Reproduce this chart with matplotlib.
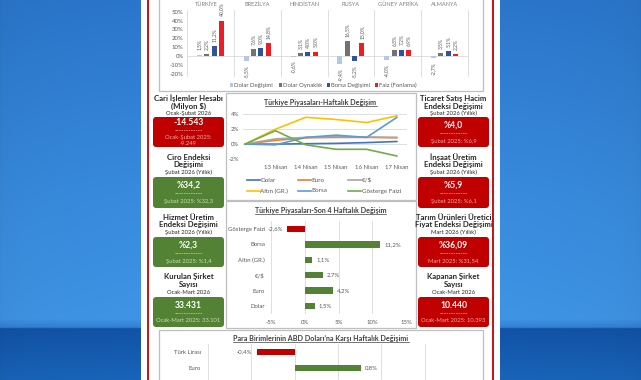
import matplotlib
matplotlib.use('Agg')
import matplotlib.pyplot as plt
import numpy as np
from matplotlib.patches import FancyBboxPatch, Rectangle
import matplotlib.transforms as mtransforms

# ---------------- DATA ----------------
countries = ['TÜRKİYE', 'BREZİLYA', 'HİNDİSTAN', 'RUSYA', 'GÜNEY AFRİKA', 'ALMANYA']
top_series = ['Dolar Değişimi', 'Dolar Oynaklık', 'Borsa Değişimi', 'Faiz (Fonlama)']
dolar_degisimi = [1.5, -5.5, -0.6, -9.4, -4.0, -2.7]
dolar_oynaklik = [2.2, 7.6, 3.1, 16.5, 6.3, 3.5]
borsa_degisimi = [11.2, 9.0, 4.0, -5.2, 7.2, 5.1]
faiz_fonlama = [40.0, 14.8, 5.0, 15.0, 6.9, 2.2]

weekly_dates = ['', '13 Nisan', '14 Nisan', '15 Nisan', '16 Nisan', '17 Nisan']
weekly_names = ['Dolar', 'Euro', '€/$', 'Altın (GR.)', 'Borsa', 'Gösterge Faizi']
w_dolar = [0.0, 0.0, 0.05, 0.1, 0.2, 0.35]
w_euro = [0.0, 0.5, 0.85, 0.9, 0.9, 0.85]
w_eurusd = [0.0, 0.7, 0.9, 1.0, 0.95, 0.9]
w_altin = [0.0, 2.0, 3.6, 3.3, 2.9, 3.8]
w_borsa = [0.0, -0.1, 0.9, 1.2, 0.9, 3.6]
w_gosterge = [0.0, 1.8, -0.1, -0.7, -0.7, -1.6]

four_week_cats = ['Dolar', 'Euro', '€/$', 'Altın (GR.)', 'Borsa', 'Gösterge Faizi']
four_week_vals = [1.5, 4.2, 2.7, 1.1, 11.2, -2.6]

fx_cats = ['Türk Lirası', 'Euro']
fx_vals = [-0.44, 0.76]

kpi_left = [
    (['Cari İşlemler Hesabı', '(Milyon $)'], 'Ocak-Şubat 2026', '-14.543', ['Ocak-Şubat 2025:', '-9.249'], 'red'),
    (['Ciro Endeksi', 'Değişimi'], 'Şubat 2026 (Yıllık)', '%34,2', ['Şubat 2025: %32,3'], 'green'),
    (['Hizmet Üretim', 'Endeksi Değişimi'], 'Şubat 2026 (Yıllık)', '%2,3', ['Şubat 2025: %1,4'], 'green'),
    (['Kurulan Şirket', 'Sayısı'], 'Ocak-Mart 2026', '33.431', ['Ocak-Mart 2025: 33.101'], 'green'),
]
kpi_right = [
    (['Ticaret Satış Hacim', 'Endeksi Değişimi'], 'Şubat 2026 (Yıllık)', '%4,0', ['Şubat 2025: %6,9'], 'red'),
    (['İnşaat Üretim', 'Endeksi Değişimi'], 'Şubat 2026 (Yıllık)', '%5,9', ['Şubat 2025: %6,1'], 'red'),
    (['Tarım Ürünleri Üretici', 'Fiyat Endeksi Değişimi'], 'Mart 2026 (Yıllık)', '%36,09', ['Mart 2025: %31,54'], 'red'),
    (['Kapanan Şirket', 'Sayısı'], 'Ocak-Mart 2026', '10.440', ['Ocak-Mart 2025: 10.393'], 'red'),
]

# ---------------- STYLE ----------------
plt.rcParams['font.family'] = ['Liberation Sans Narrow', 'Lato', 'DejaVu Sans']
W, H = 641, 380
RED = '#c00000'
GREEN = '#548235'
GRID = '#d9d9d9'
TXT = '#595959'
FRAME = '#bfbfbf'

fig = plt.figure(figsize=(W / 100, H / 100), dpi=100)
bg = fig.add_axes([0, 0, 1, 1])
bg.set_xlim(0, W)
bg.set_ylim(H, 0)
bg.axis('off')

# background gradient
ys = np.linspace(0, 1, H)
stops = [0.0, 0.5, 0.84, 0.862, 0.866, 1.0]
cols = np.array([[0.17, 0.47, 0.81], [0.22, 0.55, 0.88], [0.25, 0.59, 0.91],
                 [0.20, 0.51, 0.85], [0.07, 0.33, 0.66], [0.10, 0.40, 0.74]])
grad = np.stack([np.interp(ys, stops, cols[:, c]) for c in range(3)], axis=1)
xs = np.linspace(0, 1, W)
img = grad[:, None, :] * np.ones((1, W, 1))
hx = 0.93 + 0.07 * np.clip(1 - np.abs(xs - 0.5) * 2, 0, 1) ** 0.3
img = np.clip(img * hx[None, :, None], 0, 1)
bg.imshow(img, extent=(0, W, H, 0), aspect='auto', zorder=0)

bg.add_patch(Rectangle((141, 0), 359, H, fc='white', ec='none', zorder=1))
bg.plot([148, 148], [0, H], color=RED, lw=1.3, zorder=2)
bg.plot([492.5, 492.5], [0, H], color=RED, lw=1.3, zorder=2)


def px_axes(x0, y0, x1, y1):
    a = fig.add_axes([x0 / W, 1 - y1 / H, (x1 - x0) / W, (y1 - y0) / H])
    a.set_facecolor('none')
    for s in a.spines.values():
        s.set_visible(False)
    return a


def frame(x0, y0, x1, y1):
    bg.add_patch(Rectangle((x0, y0), x1 - x0, y1 - y0, fill=False, ec=FRAME, lw=0.9, zorder=3))


titles = []


def chart_title(x, y, s):
    t = bg.text(x, y, s, ha='center', va='center', fontsize=5.1, fontweight='bold', color='#404040', zorder=5)
    titles.append(t)


# ---------------- TOP CHART ----------------
frame(159, -5, 483, 91)
ax1 = px_axes(187, 11.7, 468, 73.7)
ax1.set_xlim(-0.5, 5.5)
ax1.set_ylim(-20, 50)
top_colors = ['#b4c7e7', '#767171', '#2f5597', '#ee1c25']
top_vals = [dolar_degisimi, dolar_oynaklik, borsa_degisimi, faiz_fonlama]
xg = np.arange(len(countries))
for b in np.arange(-0.5, 6.0, 1.0):
    ax1.axvline(b, ymin=-0.03, ymax=1.02, color=GRID, lw=0.6, clip_on=False, zorder=0)
ax1.axhline(0, color=GRID, lw=0.6, zorder=0)
for i, (vals, c) in enumerate(zip(top_vals, top_colors)):
    xp = xg + (i - 1.5) * 0.156
    ax1.bar(xp, vals, width=0.107, color=c, zorder=2)
    for x, v in zip(xp, vals):
        lab = f'{v:.1f}%'.replace('.', ',')
        ax1.annotate(lab, (x, v), xytext=(0, 3 if v >= 0 else -3), textcoords='offset points',
                     rotation=90, ha='center', va='bottom' if v >= 0 else 'top',
                     fontsize=3.6, color=TXT, annotation_clip=False)
ax1.set_yticks(range(-20, 51, 10))
ax1.set_yticklabels([f'{t}%' for t in range(-20, 51, 10)])
ax1.set_xticks([])
ax1.tick_params(axis='y', length=0, labelsize=4.3, labelcolor=TXT, pad=2.5)
btr = mtransforms.blended_transform_factory(ax1.transData, ax1.transAxes)
for i, c in enumerate(countries):
    dx = -0.08 if i == 0 else 0.0
    ax1.text(i + dx, 1.118, c, transform=btr,
             ha='center', va='center', fontsize=4.1, color='#7f7f7f')

leg_x = [231.7, 280.5, 328.5, 376.5]
for lx, name, c in zip(leg_x, top_series, top_colors):
    bg.add_patch(Rectangle((lx - 1.6, 83.4), 3.2, 3.2, fc=c, ec='none', zorder=4))
    bg.text(lx + 2.6, 85, name, ha='left', va='center', fontsize=4.3, color=TXT, zorder=4)

# ---------------- LINE CHART ----------------
frame(226, 93, 415.5, 200)
chart_title(320.5, 103, 'Türkiye Piyasaları-Haftalık Değişim')
ax2 = px_axes(243, 114.3, 407, 159)
ax2.set_xlim(-2 / 30.4, 5 + 10 / 30.4)
ax2.set_ylim(-2, 4)
line_colors = ['#4472c4', '#ed7d31', '#a5a5a5', '#ffc000', '#5b9bd5', '#70ad47']
line_vals = [w_dolar, w_euro, w_eurusd, w_altin, w_borsa, w_gosterge]
xi = np.arange(len(weekly_dates))
for vals, c, n in zip(line_vals, line_colors, weekly_names):
    ax2.plot(xi, vals, color=c, lw=1.2, label=n, solid_capstyle='round', zorder=3)
ax2.set_yticks([-2, 0, 2, 4])
ax2.set_yticklabels(['-2%', '0%', '2%', '4%'])
ax2.set_xticks(xi)
ax2.set_xticklabels(weekly_dates)
ax2.grid(axis='y', color=GRID, lw=0.6)
ax2.set_axisbelow(True)
ax2.tick_params(length=0, labelsize=4.3, labelcolor=TXT)
ax2.tick_params(axis='y', pad=3)
ax2.tick_params(axis='x', pad=4.5)

leg_pos = [(247, 180), (298, 180), (348, 180), (247, 191), (298, 191), (348, 191)]
for (lx, ly), n, c in zip(leg_pos, weekly_names, line_colors):
    bg.plot([lx, lx + 13], [ly, ly], color=c, lw=1.2, zorder=4)
    bg.text(lx + 13.5, ly, n, ha='left', va='center', fontsize=4.5, color=TXT, zorder=4)

# ---------------- 4-WEEK BAR CHART ----------------
frame(226, 201, 415.5, 328)
chart_title(320.5, 211, 'Türkiye Piyasaları-Son 4 Haftalık Değişim')
ax3 = px_axes(271, 221.3, 406, 313.7)
ax3.set_xlim(-5, 15)
ax3.set_ylim(-0.5, 5.5)
yi = np.arange(len(four_week_cats))
ax3.barh(yi, four_week_vals, height=0.42, color=[GREEN if v >= 0 else RED for v in four_week_vals], zorder=3)
for y, v in zip(yi, four_week_vals):
    lab = f'{v:.1f}%'.replace('.', ',')
    ax3.annotate(lab, (v, y), xytext=(3 if v >= 0 else -3, 0), textcoords='offset points',
                 ha='left' if v >= 0 else 'right', va='center', fontsize=4.3, color=TXT)
ax3.set_yticks(yi)
ax3.set_yticklabels(four_week_cats)
ax3.set_xticks([-5, 0, 5, 10, 15])
ax3.set_xticklabels(['-5%', '0%', '5%', '10%', '15%'])
ax3.grid(axis='x', color=GRID, lw=0.6)
ax3.set_axisbelow(True)
ax3.tick_params(length=0, labelsize=4.3, labelcolor=TXT)
ax3.tick_params(axis='y', pad=4.3)
ax3.tick_params(axis='x', pad=4.5)

# ---------------- FX BAR CHART ----------------
frame(159, 330, 483, 395)
chart_title(321, 339, 'Para Birimlerinin ABD Doları’na Karşı Haftalık Değişimi')
ax4 = px_axes(208, 344, 468, 380)
ax4.set_xlim(-1, 2)
ax4.set_ylim(1.75, -0.5)
fi = np.arange(len(fx_cats))
ax4.barh(fi, fx_vals, height=0.4, color=[GREEN if v >= 0 else RED for v in fx_vals], zorder=3)
for y, v in zip(fi, fx_vals):
    lab = f'{v:.1f}%'.replace('.', ',')
    ax4.annotate(lab, (v, y), xytext=(3 if v >= 0 else -3, 0), textcoords='offset points',
                 ha='left' if v >= 0 else 'right', va='center', fontsize=4.3, color=TXT)
ax4.set_yticks(fi)
ax4.set_yticklabels(fx_cats)
ax4.set_xticks(np.arange(-1, 2.01, 0.5))
ax4.grid(axis='x', color=GRID, lw=0.6)
ax4.set_axisbelow(True)
ax4.tick_params(length=0, labelsize=4.3, labelcolor=TXT, labelbottom=False)
ax4.tick_params(axis='y', pad=5)

# ---------------- KPI CARDS ----------------
layout = [
    dict(t=(98, 106), s=113, box=(117, 147)),
    dict(t=(157, 165), s=172, box=(177, 208)),
    dict(t=(217, 225), s=232, box=(237, 267)),
    dict(t=(277, 285), s=292, box=(297, 327)),
]


def draw_kpi(cx, item, lay):
    tl, sub, val, foot, col = item
    for line, y in zip(tl, lay['t']):
        bg.text(cx, y, line, ha='center', va='center', fontsize=5.6, fontweight='bold', color='#262626', zorder=4)
    bg.text(cx, lay['s'], sub, ha='center', va='center', fontsize=4.2, color='#262626', zorder=4)
    y0, y1 = lay['box']
    fc = RED if col == 'red' else GREEN
    bg.add_patch(FancyBboxPatch((cx - 35.5 + 3, y0 + 3), 71 - 6, (y1 - y0) - 6,
                                boxstyle='round,pad=3', fc=fc, ec='none', zorder=3))
    light = '#f4a6a6' if col == 'red' else '#c5e0b4'
    if len(foot) == 2:
        vy, dy, fys = y0 + 5.5, y0 + 14, [y0 + 20.5, y0 + 26.5]
    else:
        vy, dy, fys = y0 + 8.5, y0 + 17, [y0 + 24]
    bg.text(cx, vy, val, ha='center', va='center', fontsize=6.2, fontweight='bold', color='white', zorder=4)
    bg.text(cx, dy, '------------', ha='center', va='center', fontsize=4.5, color='white', zorder=4)
    for f, fy in zip(foot, fys):
        bg.text(cx, fy, f, ha='center', va='center', fontsize=4.2, color=light, zorder=4)


for item, lay in zip(kpi_left, layout):
    draw_kpi(188.5, item, lay)
for item, lay in zip(kpi_right, layout):
    draw_kpi(453.5, item, lay)

# underline chart titles
fig.canvas.draw()
inv = bg.transData.inverted()
for t in titles:
    bb = t.get_window_extent()
    (x0, yb), (x1, _) = inv.transform([(bb.x0, bb.y0), (bb.x1, bb.y1)])
    bg.plot([x0, x1], [yb - 0.3, yb - 0.3], color='#404040', lw=0.5, zorder=5)

fig.savefig('out.png', dpi=100)
